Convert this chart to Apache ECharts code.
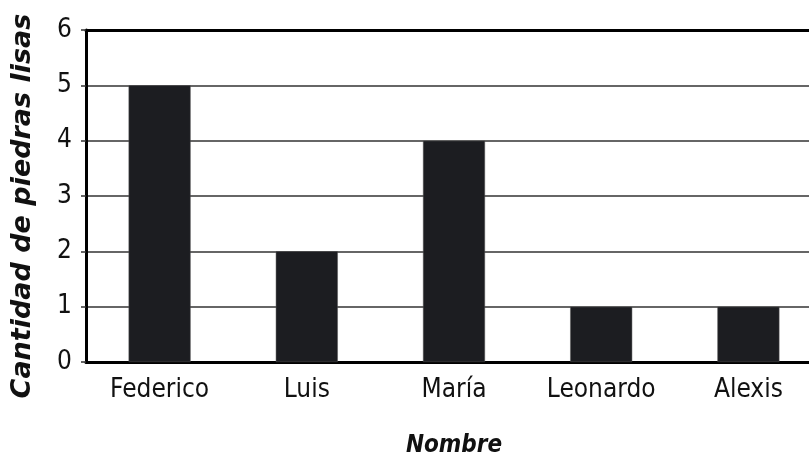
<!DOCTYPE html>
<html><head><meta charset="utf-8">
<script src="https://cdn.jsdelivr.net/npm/echarts@6/dist/echarts.min.js"></script>
<style>html,body{margin:0;padding:0;background:#fff}#c{width:809px;height:461px}</style>
</head><body><div id="c"></div>
<script>
const categories = ["Federico", "Luis", "María", "Leonardo", "Alexis"];
const values = [5, 2, 4, 1, 1];
const yTicks = [0, 1, 2, 3, 4, 5, 6];
const yTitle = "Cantidad de piedras lisas";
const xTitle = "Nombre";

const chart = echarts.init(document.getElementById('c'), null, {renderer: 'canvas'});
const narrow = '"Liberation Sans Narrow", "DejaVu Sans Condensed", sans-serif';
chart.setOption({
  animation: false,
  grid: {left: 86, top: 30, width: 736, height: 332, containLabel: false, outerBoundsMode: 'none'},
  xAxis: [{
    type: 'category', data: categories, position: 'bottom',
    axisLine: {show: true, lineStyle: {color: '#000', width: 3}},
    axisTick: {show: false},
    axisLabel: {color: '#111', fontFamily: narrow, fontSize: 26, margin: 15},
    name: xTitle, nameLocation: 'middle', nameGap: 72,
    nameTextStyle: {color: '#111', fontFamily: narrow, fontStyle: 'italic', fontWeight: 'bold', fontSize: 24, padding: [0, 0, 0, 0]}
  }, {
    type: 'category', data: categories, position: 'top',
    axisLine: {show: true, lineStyle: {color: '#000', width: 3}},
    axisTick: {show: false}, axisLabel: {show: false}
  }],
  yAxis: {
    type: 'value', min: 0, max: 6, interval: 1,
    axisLine: {show: true, lineStyle: {color: '#000', width: 3}},
    axisTick: {show: true, length: 5, lineStyle: {color: '#333', width: 1.5}},
    splitLine: {show: true, lineStyle: {color: '#333', width: 1.6}},
    axisLabel: {color: '#111', fontFamily: narrow, fontSize: 26, margin: 14,
      formatter: v => yTicks.includes(v) ? String(v) : ''},
    name: yTitle, nameLocation: 'middle', nameGap: 50, nameRotate: 90,
    nameTextStyle: {color: '#111', fontFamily: '"DejaVu Sans"', fontStyle: 'italic', fontWeight: 'bold', fontSize: 27, padding: [0, 20, 0, 0]}
  },
  series: [{
    type: 'bar', data: values, barWidth: 62,
    itemStyle: {color: '#1c1d21', borderColor: '#555', borderWidth: 0.5}
  }]
});
</script></body></html>
